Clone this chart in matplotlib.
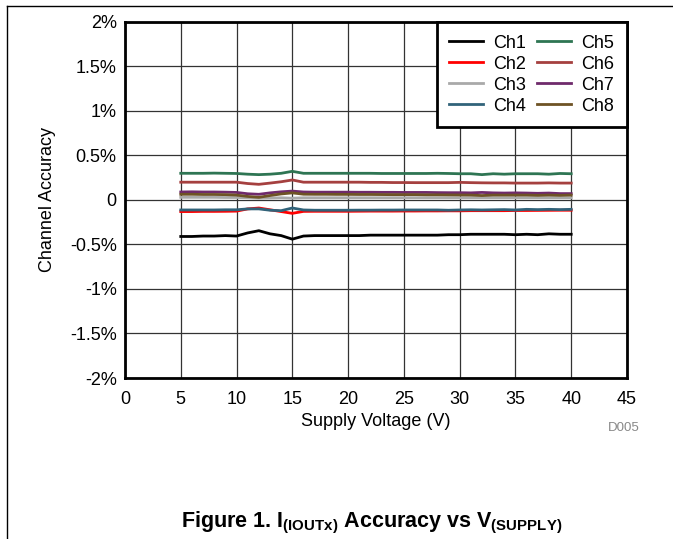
import matplotlib
matplotlib.use("Agg")
import matplotlib.pyplot as plt
from matplotlib.lines import Line2D

plt.rcParams['font.family'] = ['Liberation Sans', 'DejaVu Sans']
plt.rcParams['mathtext.fontset'] = 'custom'
plt.rcParams['mathtext.rm'] = 'Liberation Sans'
plt.rcParams['mathtext.bf'] = 'Liberation Sans:bold'

# supply voltage (V)
volts = list(range(5, 41))

# channel accuracy (%)
ch1 = [-0.41, -0.41, -0.405, -0.405, -0.40, -0.405, -0.37, -0.345, -0.38, -0.40,
       -0.44, -0.405, -0.40, -0.40, -0.40, -0.40, -0.40, -0.395, -0.395, -0.395,
       -0.395, -0.395, -0.395, -0.395, -0.39, -0.39, -0.385, -0.385, -0.385, -0.385,
       -0.39, -0.385, -0.39, -0.38, -0.385, -0.385]
ch2 = [-0.13, -0.13, -0.128, -0.128, -0.127, -0.125, -0.10, -0.09, -0.11, -0.13,
       -0.15, -0.128, -0.127, -0.127, -0.127, -0.127, -0.126, -0.125, -0.125, -0.125,
       -0.124, -0.124, -0.123, -0.123, -0.122, -0.122, -0.12, -0.12, -0.12, -0.12,
       -0.118, -0.118, -0.117, -0.116, -0.115, -0.115]
ch3 = [0.03, 0.03, 0.03, 0.03, 0.028, 0.028, 0.025, 0.02, 0.022, 0.025,
       0.02, 0.025, 0.025, 0.025, 0.025, 0.025, 0.025, 0.025, 0.025, 0.025,
       0.025, 0.025, 0.025, 0.025, 0.025, 0.025, 0.025, 0.025, 0.025, 0.025,
       0.025, 0.025, 0.025, 0.025, 0.025, 0.025]
ch4 = [-0.112, -0.112, -0.112, -0.112, -0.11, -0.11, -0.10, -0.10, -0.115, -0.12,
       -0.09, -0.112, -0.115, -0.115, -0.115, -0.115, -0.114, -0.114, -0.113, -0.113,
       -0.112, -0.112, -0.112, -0.112, -0.115, -0.112, -0.11, -0.112, -0.11, -0.108,
       -0.112, -0.105, -0.108, -0.105, -0.108, -0.105]
ch5 = [0.30, 0.30, 0.30, 0.302, 0.30, 0.298, 0.29, 0.285, 0.29, 0.30,
       0.322, 0.30, 0.30, 0.30, 0.30, 0.30, 0.30, 0.30, 0.298, 0.298,
       0.298, 0.298, 0.298, 0.30, 0.298, 0.295, 0.295, 0.285, 0.295, 0.29,
       0.295, 0.295, 0.295, 0.29, 0.298, 0.295]
ch6 = [0.20, 0.20, 0.20, 0.20, 0.20, 0.20, 0.185, 0.176, 0.19, 0.205,
       0.225, 0.20, 0.20, 0.20, 0.20, 0.20, 0.20, 0.198, 0.198, 0.196,
       0.196, 0.195, 0.195, 0.195, 0.195, 0.198, 0.195, 0.193, 0.192, 0.192,
       0.19, 0.19, 0.19, 0.192, 0.19, 0.19]
ch7 = [0.09, 0.092, 0.09, 0.09, 0.088, 0.085, 0.07, 0.064, 0.08, 0.092,
       0.10, 0.09, 0.088, 0.088, 0.088, 0.088, 0.087, 0.087, 0.086, 0.086,
       0.085, 0.085, 0.085, 0.083, 0.082, 0.082, 0.08, 0.085, 0.08, 0.078,
       0.08, 0.078, 0.075, 0.078, 0.072, 0.072]
ch8 = [0.064, 0.064, 0.062, 0.062, 0.06, 0.055, 0.04, 0.03, 0.05, 0.068,
       0.08, 0.065, 0.064, 0.064, 0.063, 0.063, 0.062, 0.062, 0.061, 0.06,
       0.06, 0.06, 0.058, 0.058, 0.057, 0.056, 0.055, 0.05, 0.055, 0.055,
       0.055, 0.055, 0.052, 0.055, 0.052, 0.055]

series = [ch1, ch2, ch3, ch4, ch5, ch6, ch7, ch8]
names = ['Ch1', 'Ch2', 'Ch3', 'Ch4', 'Ch5', 'Ch6', 'Ch7', 'Ch8']
colors = ['#000000', '#FF0000', '#A9A9A9', '#31637A',
          '#2E7553', '#A5403F', '#6F2A6B', '#6E5325']

xticks = list(range(0, 50, 5))
yticks = [-2, -1.5, -1, -0.5, 0, 0.5, 1, 1.5, 2]
ylabels = ['-2%', '-1.5%', '-1%', '-0.5%', '0', '0.5%', '1%', '1.5%', '2%']

fig = plt.figure(figsize=(6.73, 5.39), dpi=100)
ax = fig.add_axes([0.1857, 0.2987, 0.7459, 0.6605])

for s, n, c in zip(series, names, colors):
    ax.plot(volts, s, color=c, lw=2, label=n, zorder=3)

ax.set_xlim(0, 45)
ax.set_ylim(-2, 2)
ax.set_xticks(xticks)
ax.set_yticks(yticks)
ax.set_yticklabels(ylabels)
ax.tick_params(labelsize=13, length=0)
ax.tick_params(axis='x', pad=9)
ax.tick_params(axis='y', pad=6)
ax.grid(True, color='#333333', lw=0.9)
for sp in ax.spines.values():
    sp.set_linewidth(2)
ax.set_xlabel('Supply Voltage (V)', fontsize=13, labelpad=4)
ax.set_ylabel('Channel Accuracy', fontsize=13, labelpad=10)

leg = ax.legend(loc='upper right', ncol=2, fontsize=13, frameon=True, fancybox=False,
                handlelength=1.9, columnspacing=0.6, handletextpad=0.55,
                labelspacing=0.22, borderaxespad=0, borderpad=0.7)
leg.get_frame().set_edgecolor('black')
leg.get_frame().set_linewidth(2)
leg.get_frame().set_alpha(1)

fig.text(0.951, 0.206, 'D005', fontsize=9.5, color='#888888', ha='right', va='center')
fig.text(0.553, 0.022, r'Figure 1. I$_{\mathbf{(IOUTx)}}$ Accuracy vs V$_{\mathbf{(SUPPLY)}}$',
         fontsize=15.5, fontweight='bold', ha='center', va='baseline')

# page frame lines (top and left)
fig.add_artist(Line2D([0.0104, 1.0], [0.989, 0.989], color='black', lw=1))
fig.add_artist(Line2D([0.0104, 0.0104], [0.0, 0.989], color='black', lw=1))

fig.savefig('out.png', dpi=100)
